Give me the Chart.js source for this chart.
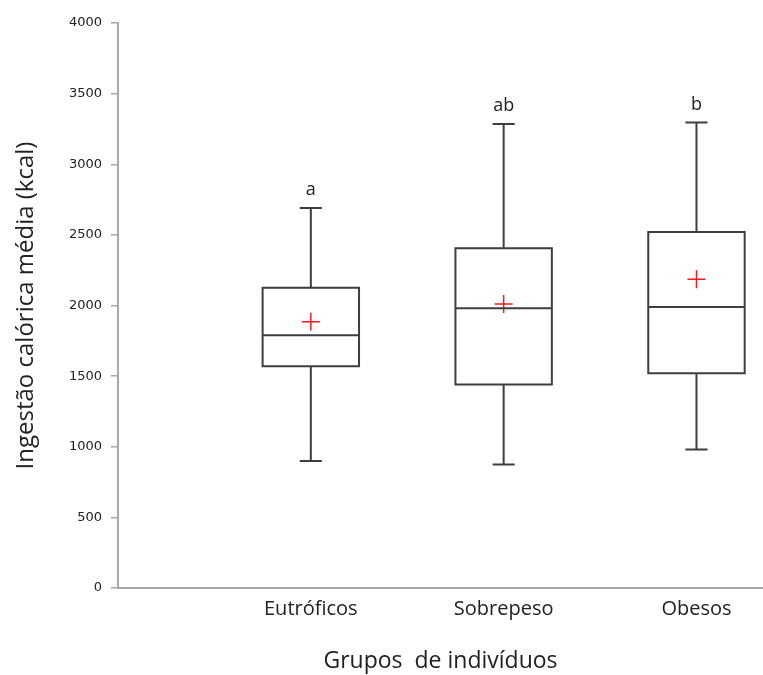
<!DOCTYPE html>
<html>
<head>
<meta charset="utf-8">
<script src="https://cdn.jsdelivr.net/npm/chart.js@4/dist/chart.umd.min.js"></script>
<style>
  html, body { margin: 0; padding: 0; background: #fff; }
  #wrap { width: 763px; height: 675px; }
</style>
</head>
<body>
<div id="wrap"><canvas id="c" width="763" height="675"></canvas></div>
<script>
// Grupos and box-plot summaries (kcal)
const categories = ['Eutróficos', 'Sobrepeso', 'Obesos'];
const whiskerMin = [900, 875, 980];
const q1 = [1570, 1440, 1520];
const median = [1790, 1980, 1990];
const q3 = [2125, 2405, 2520];
const whiskerMax = [2690, 3285, 3295];
const mean = [1885, 2010, 2185];
const groupLetters = ['a', 'ab', 'b'];
const yTicks = [0, 500, 1000, 1500, 2000, 2500, 3000, 3500, 4000];

const BOX_HALF = 0.25;
const CAP_HALF = 0.052;

// Build the outline segments of every box plot (gaps separate the pieces)
const boxPoints = [];
const gap = (x) => boxPoints.push({ x: x, y: null });
categories.forEach((c, i) => {
  const x = i + 1;
  // box
  boxPoints.push({ x: x - BOX_HALF, y: q1[i] }, { x: x + BOX_HALF, y: q1[i] },
                 { x: x + BOX_HALF, y: q3[i] }, { x: x - BOX_HALF, y: q3[i] },
                 { x: x - BOX_HALF, y: q1[i] });
  gap(x);
  // median
  boxPoints.push({ x: x - BOX_HALF, y: median[i] }, { x: x + BOX_HALF, y: median[i] });
  gap(x);
  // upper whisker + cap
  boxPoints.push({ x: x, y: q3[i] }, { x: x, y: whiskerMax[i] });
  gap(x);
  boxPoints.push({ x: x - CAP_HALF, y: whiskerMax[i] }, { x: x + CAP_HALF, y: whiskerMax[i] });
  gap(x);
  // lower whisker + cap
  boxPoints.push({ x: x, y: q1[i] }, { x: x, y: whiskerMin[i] });
  gap(x);
  boxPoints.push({ x: x - CAP_HALF, y: whiskerMin[i] }, { x: x + CAP_HALF, y: whiskerMin[i] });
  gap(x);
});

const meanPoints = mean.map((v, i) => ({ x: i + 1, y: v }));

// Significance letters above the upper whiskers
const letterPlugin = {
  id: 'groupLetters',
  afterDatasetsDraw(chart) {
    const { ctx, scales } = chart;
    ctx.save();
    ctx.font = '18px "Open Sans"';
    ctx.fillStyle = '#222';
    ctx.textAlign = 'center';
    ctx.textBaseline = 'middle';
    groupLetters.forEach((t, i) => {
      const x = scales.x.getPixelForValue(i + 1);
      const y = scales.y.getPixelForValue(whiskerMax[i]) - 18;
      ctx.fillText(t, x, y);
    });
    ctx.restore();
  }
};

new Chart(document.getElementById('c'), {
  type: 'line',
  data: {
    datasets: [
      {
        data: boxPoints,
        borderColor: '#3e3e3e',
        borderWidth: 2,
        pointRadius: 0,
        fill: false,
        spanGaps: false,
        tension: 0,
        borderCapStyle: 'square',
        borderJoinStyle: 'miter'
      },
      {
        data: meanPoints,
        showLine: false,
        pointStyle: 'cross',
        pointRadius: 9,
        pointBorderColor: '#ff1a1a',
        pointBorderWidth: 1.5,
        borderColor: '#ff1a1a'
      }
    ]
  },
  options: {
    responsive: false,
    animation: false,
    events: [],
    layout: { autoPadding: false, padding: { top: 23, right: 0, bottom: 0, left: 0 } },
    plugins: { legend: { display: false }, tooltip: { enabled: false } },
    scales: {
      x: {
        type: 'linear',
        min: 0,
        max: 3.345,
        afterBuildTicks(scale) {
          scale.ticks = categories.map((c, i) => ({ value: i + 1 }));
        },
        afterFit(scale) {
          scale.height = 87;
          scale.paddingLeft = 0;
          scale.paddingRight = 0;
        },
        grid: { display: false, drawTicks: false },
        border: { display: true, color: '#a8a8a8', width: 2 },
        ticks: {
          padding: 9,
          color: '#222',
          font: { family: '"Open Sans"', size: 20 },
          callback: (v) => categories[Math.round(v) - 1] ?? ''
        },
        title: {
          display: true,
          text: 'Grupos  de indivíduos',
          color: '#222',
          font: { family: '"Open Sans"', size: 23 },
          padding: { top: 0, bottom: 0 }
        }
      },
      y: {
        type: 'linear',
        min: 0,
        max: 4000,
        afterBuildTicks(scale) {
          scale.ticks = yTicks.map((v) => ({ value: v }));
        },
        afterFit(scale) { scale.width = 118; },
        grid: {
          drawOnChartArea: false,
          drawTicks: true,
          tickLength: 7,
          color: '#a8a8a8',
          lineWidth: 1.5
        },
        border: { display: true, color: '#a8a8a8', width: 2 },
        ticks: {
          padding: 9,
          color: '#222',
          font: { family: '"DejaVu Sans"', size: 13 },
          callback: (v) => String(v)
        },
        title: {
          display: true,
          text: 'Ingestão calórica média (kcal)',
          color: '#222',
          font: { family: '"Open Sans"', size: 24 },
          padding: { top: 11.5, bottom: 0 }
        }
      }
    }
  },
  plugins: [letterPlugin]
});
</script>
</body>
</html>
